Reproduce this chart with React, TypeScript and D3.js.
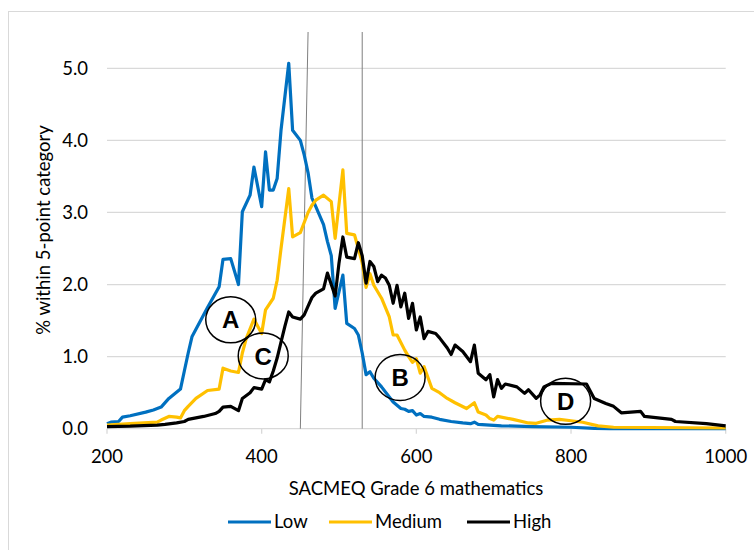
import React from "react";
import * as d3 from "d3";

const lowScores = [200,205,215,220,230,250,260,270,280,295,300,305,310,320,330,345,350,360,370,375,385,390,400,405,410,415,420,425,435,440,450,455,460,465,470,480,485,490,495,500,505,510,520,525,530,535,540,545,555,565,570,580,585,590,595,600,605,610,620,630,645,660,670,675,680,695,710,750,800,830,850,1000];
const lowValues = [0.07,0.09,0.10,0.16,0.18,0.23,0.26,0.30,0.42,0.55,0.80,1.05,1.28,1.48,1.68,1.97,2.35,2.36,2.00,3.01,3.24,3.63,3.08,3.84,3.31,3.31,3.47,4.14,5.07,4.14,4.00,3.80,3.55,3.20,3.08,2.83,2.60,2.40,1.67,1.90,2.13,1.46,1.39,1.30,1.05,0.75,0.79,0.70,0.58,0.44,0.37,0.28,0.27,0.24,0.25,0.19,0.21,0.17,0.16,0.13,0.10,0.08,0.07,0.09,0.06,0.05,0.04,0.03,0.02,0.005,0,0];

const mediumScores = [200,230,265,270,280,290,295,300,305,315,330,345,350,360,370,375,380,390,400,405,415,420,425,435,440,450,455,460,465,470,480,490,495,505,510,520,525,530,535,540,545,555,565,570,575,585,590,595,600,605,610,620,630,640,650,665,675,680,690,695,700,705,725,745,755,770,785,800,815,835,855,1000];
const mediumValues = [0.05,0.07,0.09,0.12,0.17,0.16,0.15,0.25,0.31,0.42,0.53,0.55,0.84,0.80,0.78,1.05,1.25,1.52,1.32,1.65,1.81,2.06,2.50,3.33,2.66,2.72,2.86,3.00,3.10,3.17,3.24,3.15,2.64,3.59,2.71,2.69,2.50,2.30,1.96,2.15,1.99,1.81,1.55,1.30,1.30,1.09,1.00,0.92,0.97,0.77,0.86,0.56,0.50,0.42,0.36,0.28,0.36,0.23,0.19,0.14,0.12,0.17,0.13,0.08,0.075,0.12,0.13,0.11,0.09,0.04,0.02,0.01];

const highScores = [200,230,265,275,290,300,305,315,325,340,345,350,360,370,375,385,390,400,405,410,415,420,425,430,435,440,450,455,460,465,470,480,485,490,495,500,505,510,520,525,530,535,540,545,550,555,560,565,570,575,580,585,590,595,600,605,610,615,625,630,640,645,650,660,670,675,680,690,695,700,705,710,715,730,740,745,755,760,765,775,820,830,845,855,865,890,895,930,935,975,1000];
const highValues = [0.03,0.035,0.05,0.06,0.08,0.10,0.13,0.15,0.17,0.21,0.24,0.30,0.31,0.25,0.42,0.50,0.57,0.55,0.68,0.65,0.80,0.98,1.20,1.42,1.62,1.55,1.52,1.58,1.70,1.82,1.88,1.94,2.16,2.00,1.84,2.30,2.66,2.38,2.36,2.58,2.40,2.02,2.32,2.25,2.04,2.13,2.09,1.99,1.74,1.99,1.69,1.88,1.53,1.74,1.37,1.55,1.25,1.35,1.32,1.26,1.12,1.03,1.16,1.07,0.93,1.16,0.77,0.68,0.75,0.44,0.68,0.56,0.62,0.58,0.49,0.54,0.42,0.47,0.58,0.63,0.62,0.42,0.35,0.31,0.22,0.24,0.17,0.13,0.10,0.07,0.04];

const xTicks = [200, 400, 600, 800, 1000];
const yTicks = [0, 1, 2, 3, 4, 5];
const refLineTop = [460, 530];
const refLineBottom = [450, 530];
const annotations = [
  { label: "A", score: 360, value: 1.51 },
  { label: "C", score: 402, value: 1.01 },
  { label: "B", score: 579, value: 0.71 },
  { label: "D", score: 793, value: 0.38 },
];
const seriesNames = ["Low", "Medium", "High"];
const colors = ["#0070C0", "#FFC000", "#000000"];

const FONT = "Lato, 'Open Sans', sans-serif";

export default function App() {
  const x = d3.scaleLinear().domain([200, 1000]).range([107, 725.7]);
  const y = d3.scaleLinear().domain([0, 5]).range([428.7, 68.3]);
  const line = d3
    .line<[number, number]>()
    .x((d) => x(d[0]))
    .y((d) => y(d[1]))
    .curve(d3.curveLinear);

  const series = [
    d3.zip(lowScores, lowValues) as [number, number][],
    d3.zip(mediumScores, mediumValues) as [number, number][],
    d3.zip(highScores, highValues) as [number, number][],
  ];

  const legendX = [228, 329, 467];

  return (
    <svg
      width={754}
      height={550}
      style={{ position: "absolute", left: 0, top: 0, background: "#fff" }}
      fontFamily={FONT}
    >
      <rect x={8.5} y={11.5} width={800} height={600} fill="#fff" stroke="#D9D9D9" />
      {yTicks.map((t) => (
        <line key={t} x1={107} x2={725.7} y1={y(t)} y2={y(t)} stroke="#D9D9D9" strokeWidth={1.3} />
      ))}
      {xTicks.map((t) => (
        <line key={t} x1={x(t)} x2={x(t)} y1={y(0)} y2={y(0) + 5} stroke="#D9D9D9" strokeWidth={1.3} />
      ))}
      {yTicks.map((t) => (
        <text key={t} x={88} y={y(t)} dy="0.35em" textAnchor="end" fontSize={18.5} fill="#000">
          {t.toFixed(1)}
        </text>
      ))}
      {xTicks.map((t) => (
        <text key={t} x={x(t)} y={457} dy="0.35em" textAnchor="middle" fontSize={18.5} fill="#000">
          {t}
        </text>
      ))}
      <text x={416} y={489} dy="0.35em" textAnchor="middle" fontSize={18.5}>
        SACMEQ Grade 6 mathematics
      </text>
      <text
        transform={`translate(44,230) rotate(-90)`}
        textAnchor="middle"
        dy="0.35em"
        fontSize={18.5}
      >
        % within 5-point category
      </text>
      {refLineTop.map((v, i) => (
        <line
          key={i}
          x1={x(v)}
          y1={32}
          x2={x(refLineBottom[i])}
          y2={y(0)}
          stroke="#7F7F7F"
          strokeWidth={1}
        />
      ))}
      {series.map((s, i) => (
        <path
          key={i}
          d={line(s) || ""}
          fill="none"
          stroke={colors[i]}
          strokeWidth={3.2}
          strokeLinejoin="round"
        />
      ))}
      {annotations.map((a) => (
        <g key={a.label}>
          <ellipse cx={x(a.score)} cy={y(a.value)} rx={25} ry={23} fill="none" stroke="#000" strokeWidth={1.5} />
          <text
            x={x(a.score)}
            y={y(a.value)}
            dy="0.36em"
            textAnchor="middle"
            fontFamily="'Liberation Sans', Arial, sans-serif"
            fontWeight="bold"
            fontSize={24}
          >
            {a.label}
          </text>
        </g>
      ))}
      {seriesNames.map((n, i) => (
        <g key={n}>
          <line x1={legendX[i]} x2={legendX[i] + 43} y1={522} y2={522} stroke={colors[i]} strokeWidth={3.2} />
          <text x={legendX[i] + 46} y={522} dy="0.35em" fontSize={18.5}>
            {n}
          </text>
        </g>
      ))}
    </svg>
  );
}
